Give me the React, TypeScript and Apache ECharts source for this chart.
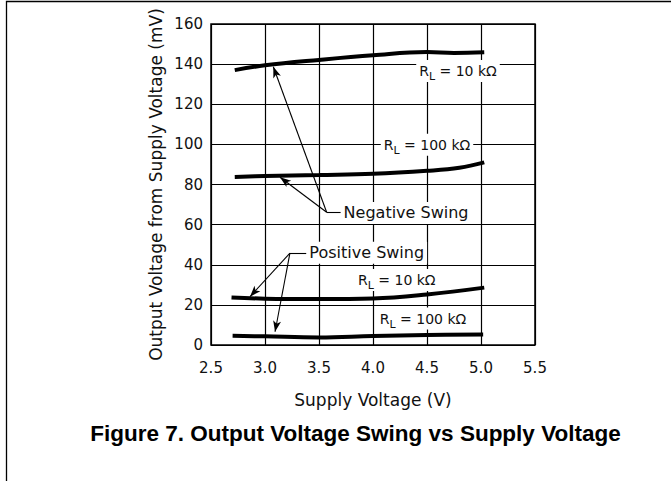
import React, { useEffect, useRef } from "react";
import * as echarts from "echarts";

// ---- data ----
const xTicksMin = 2.5;
const xTicksMax = 5.5;
const yMin = 0;
const yMax = 160;

const negSwing10kX = [2.72, 3.0, 3.5, 4.0, 4.5, 4.75, 5.03];
const negSwing10kY = [137.0, 139.4, 142.1, 144.4, 146.0, 145.6, 145.9];

const negSwing100kX = [2.72, 3.0, 3.5, 4.0, 4.5, 4.8, 5.03];
const negSwing100kY = [83.8, 84.2, 84.7, 85.3, 86.8, 88.3, 91.0];

const posSwing10kX = [2.69, 3.0, 3.5, 4.0, 4.5, 5.03];
const posSwing10kY = [23.7, 23.1, 22.9, 23.2, 25.2, 28.6];

const posSwing100kX = [2.7, 3.0, 3.5, 4.0, 4.5, 5.02];
const posSwing100kY = [4.6, 4.3, 3.8, 4.5, 5.0, 5.2];

// annotation texts and their anchor points (data coordinates)
const rlLabels = ["10", "100", "10", "100"];
const rlLabelX = [4.787, 4.5, 4.22, 4.463];
const rlLabelY = [136.6, 99.8, 32.4, 13.2];

const swingLabels = ["Negative Swing", "Positive Swing"];
const swingLabelX = [4.306, 3.942];
const swingLabelY = [65.8, 46.0];

// leader corners and arrow tips
const negCorner = [3.571, 66.2];
const negTips = [
  [3.077, 138.7],
  [3.139, 83.6],
];
const negTextStart = [3.71, 66.2];
const posCorner = [3.231, 45.8];
const posTips = [
  [2.861, 24.1],
  [3.093, 6.6],
];
const posTextStart = [3.385, 45.8];

const FONT = "DejaVu Sans";

const zip = (xs: number[], ys: number[]) => xs.map((x, i) => [x, ys[i]]);

export default function App() {
  const ref = useRef<HTMLDivElement>(null);

  useEffect(() => {
    document.body.style.margin = "0";
    const chart = echarts.init(ref.current!, null, { renderer: "svg" });

    const lineSeries = (name: string, data: number[][]) => ({
      name,
      type: "line",
      data,
      smooth: 0.4,
      symbol: "none",
      lineStyle: { color: "#000", width: 4 },
      silent: true,
      z: 3,
    });

    const arrow = (from: number[], to: number[]) => [
      { coord: from, symbol: "none" },
      { coord: to, symbol: "arrow" },
    ];
    const plain = (from: number[], to: number[]) => [
      { coord: from, symbol: "none" },
      { coord: to, symbol: "none" },
    ];

    const rlPoints = rlLabels.map((v, i) => ({
      coord: [rlLabelX[i], rlLabelY[i]],
      label: {
        formatter: `{r|R}{s|L}{r| = ${v} kΩ}`,
      },
    }));
    const swingPoints = swingLabels.map((t, i) => ({
      coord: [swingLabelX[i], swingLabelY[i]],
      label: {
        formatter: `{w|${t}}`,
      },
    }));

    const series: any[] = [
      {
        ...lineSeries("Negative Swing RL=10k", zip(negSwing10kX, negSwing10kY)),
        markLine: {
          silent: true,
          animation: false,
          symbolSize: [6, 11],
          label: { show: false },
          lineStyle: { color: "#000", width: 1.1, type: "solid" },
          emphasis: { disabled: true },
          data: [
            arrow(negCorner, negTips[0]),
            arrow(negCorner, negTips[1]),
            plain(negCorner, negTextStart),
            arrow(posCorner, posTips[0]),
            arrow(posCorner, posTips[1]),
            plain(posCorner, posTextStart),
          ],
        },
        markPoint: {
          silent: true,
          animation: false,
          symbol: "circle",
          symbolSize: 1,
          itemStyle: { color: "rgba(0,0,0,0)" },
          label: {
            show: true,
            position: "inside",
            backgroundColor: "#fff",
            padding: [0, 3],
            color: "#111",
            rich: {
              r: { fontFamily: FONT, fontSize: 14, lineHeight: 22, color: "#111" },
              s: {
                fontFamily: FONT,
                fontSize: 11,
                lineHeight: 9,
                verticalAlign: "bottom",
                color: "#111",
              },
              w: { fontFamily: FONT, fontSize: 16, lineHeight: 22, color: "#111" },
            },
          },
          data: [...rlPoints, ...swingPoints],
          z: 10,
        },
      },
      lineSeries("Negative Swing RL=100k", zip(negSwing100kX, negSwing100kY)),
      lineSeries("Positive Swing RL=10k", zip(posSwing10kX, posSwing10kY)),
      lineSeries("Positive Swing RL=100k", zip(posSwing100kX, posSwing100kY)),
    ];

    chart.setOption({
      animation: false,
      backgroundColor: "#fff",
      grid: {
        left: 211,
        right: 136,
        top: 24,
        bottom: 136,
        show: true,
        borderColor: "#000",
        borderWidth: 1.5,
        backgroundColor: "transparent",
      },
      xAxis: {
        type: "value",
        min: xTicksMin,
        max: xTicksMax,
        interval: 0.5,
        name: "Supply Voltage (V)",
        nameLocation: "middle",
        nameGap: 46,
        nameTextStyle: { fontFamily: FONT, fontSize: 17, color: "#111" },
        axisLine: { show: false },
        axisTick: { show: false },
        axisLabel: {
          margin: 15,
          fontFamily: FONT,
          fontSize: 15,
          color: "#111",
          formatter: (v: number) => v.toFixed(1),
        },
        splitLine: { show: true, lineStyle: { color: "#000", width: 1.2 } },
      },
      yAxis: {
        type: "value",
        min: yMin,
        max: yMax,
        interval: 20,
        name: "Output Voltage from Supply Voltage (mV)",
        nameLocation: "middle",
        nameGap: 47,
        nameTextStyle: { fontFamily: FONT, fontSize: 17, color: "#111" },
        axisLine: { show: false },
        axisTick: { show: false },
        axisLabel: {
          margin: 8,
          fontFamily: FONT,
          fontSize: 15,
          color: "#111",
        },
        splitLine: { show: true, lineStyle: { color: "#000", width: 1.2 } },
      },
      series,
      graphic: [
        {
          type: "polyline",
          shape: {
            points: [
              [6.5, 481],
              [6.5, 1.5],
              [671, 1.5],
            ],
          },
          style: { stroke: "#000", lineWidth: 1.3, fill: "none" },
          silent: true,
        },
        {
          type: "text",
          x: 355.5,
          y: 433,
          style: {
            text: "Figure 7. Output Voltage Swing vs Supply Voltage",
            font: "bold 22.5px 'Liberation Sans', Arial, sans-serif",
            fill: "#000",
            align: "center",
            verticalAlign: "middle",
          },
          silent: true,
        },
      ],
    });

    return () => chart.dispose();
  }, []);

  return <div ref={ref} style={{ width: 671, height: 481 }} />;
}
